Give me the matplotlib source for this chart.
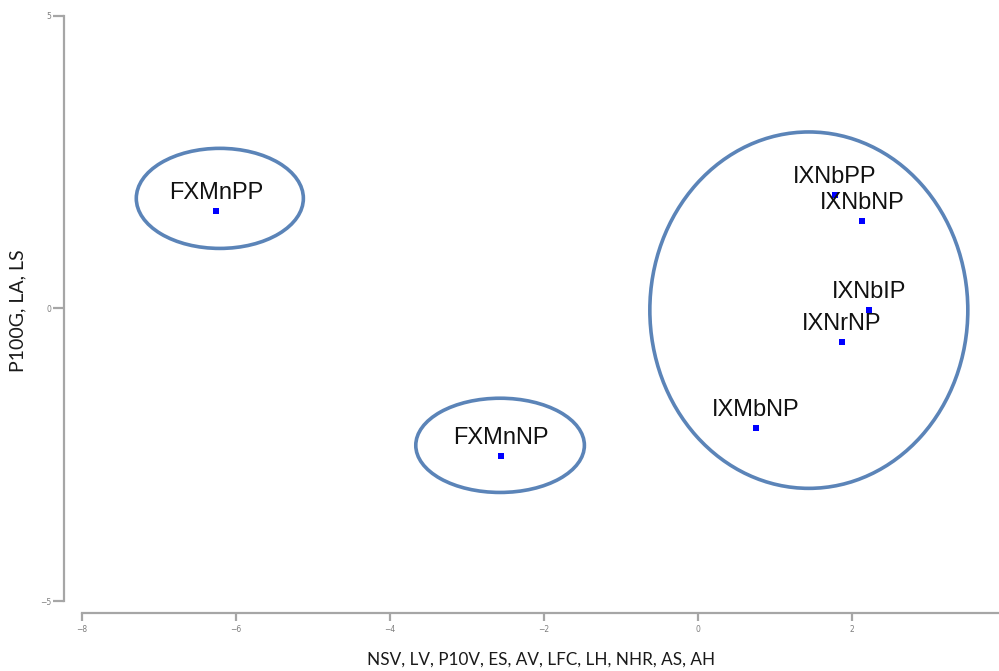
import matplotlib
matplotlib.use("Agg")
import matplotlib.pyplot as plt
from matplotlib.patches import Ellipse

# genotype scores on the two components
labels = ["FXMnPP", "FXMnNP", "IXNbPP", "IXNbNP", "IXNbIP", "IXNrNP", "IXMbNP"]
x_vals = [-6.26, -2.56, 1.78, 2.13, 2.22, 1.87, 0.75]
y_vals = [1.66, -2.53, 1.93, 1.49, -0.03, -0.58, -2.05]

# groups circled on the plot: centre x, centre y, width, height
grp_x = [-6.21, -2.57, 1.44]
grp_y = [1.88, -2.34, -0.03]
grp_w = [2.17, 2.19, 4.13]
grp_h = [1.71, 1.61, 6.09]

x_ticks = [-8, -6, -4, -2, 0, 2]
y_ticks = [-5, 0, 5]

fig = plt.figure(figsize=(9.99, 6.71), dpi=100)
ax = fig.add_axes([64 / 999, 58 / 671, 935 / 999, 613 / 671])
ax.set_xlim(-8.234, 3.91)
ax.set_ylim(-5.205, 5.27)

for cx, cy, w, h in zip(grp_x, grp_y, grp_w, grp_h):
    ax.add_patch(Ellipse((cx, cy), w, h, fill=False, edgecolor="#5b84b8", linewidth=2.6))

ax.plot(x_vals, y_vals, "s", color="#0000ff", markersize=4.2, markeredgewidth=0)
for lab, x, y in zip(labels, x_vals, y_vals):
    ax.annotate(lab, (x, y), xytext=(0, 13), textcoords="offset points",
                ha="center", va="center", fontsize=17, family="Liberation Sans",
                color="#111111")

# base-R style axes: detached lines spanning only the tick range
for s in ["top", "right"]:
    ax.spines[s].set_visible(False)
ax.spines["left"].set_bounds(-5, 5)
ax.spines["bottom"].set_bounds(-8, 3.91)
for s in ["left", "bottom"]:
    ax.spines[s].set_color("#a6a6a6")
    ax.spines[s].set_linewidth(1.6)
ax.set_xticks(x_ticks)
ax.set_yticks(y_ticks)
ax.tick_params(colors="#a6a6a6", labelcolor="#7f7f7f", labelsize=5.5, width=1.6)
ax.tick_params(axis="y", length=8, pad=1)
ax.tick_params(axis="x", length=6, pad=3)

fig.text(541 / 999, 1 - 660 / 671, "NSV, LV, P10V, ES, AV, LFC, LH, NHR, AS, AH",
         ha="center", va="center", fontsize=12.3, family="Lato", color="#1a1a1a")
fig.text(18 / 999, 1 - 311 / 671, "P100G, LA, LS", rotation=90,
         ha="center", va="center", fontsize=14, family="Lato", color="#1a1a1a")

fig.savefig("out.png", dpi=100)
